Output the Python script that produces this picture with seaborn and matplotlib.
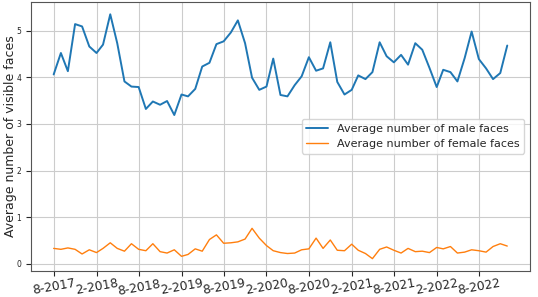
import pandas as pd
import seaborn as sns
import matplotlib.pyplot as plt

sns.set_style('ticks')

months = pd.date_range('2017-08-01', '2022-12-01', freq='MS')
male_faces = [
    4.06, 4.52, 4.13, 5.14, 5.09, 4.66, 4.52, 4.70, 5.35, 4.73,
    3.91, 3.80, 3.79, 3.32, 3.48, 3.41, 3.49, 3.19, 3.63, 3.59,
    3.75, 4.23, 4.31, 4.71, 4.77, 4.96, 5.22, 4.73, 3.99, 3.73,
    3.80, 4.40, 3.62, 3.59, 3.83, 4.02, 4.43, 4.14, 4.19, 4.75,
    3.90, 3.63, 3.73, 4.04, 3.96, 4.11, 4.75, 4.45, 4.32, 4.48,
    4.27, 4.73, 4.59, 4.20, 3.79, 4.16, 4.11, 3.91, 4.41, 4.98,
    4.39, 4.19, 3.96, 4.09, 4.68,
]
female_faces = [
    0.33, 0.31, 0.34, 0.31, 0.21, 0.30, 0.24, 0.33, 0.45, 0.33,
    0.27, 0.43, 0.31, 0.28, 0.43, 0.26, 0.23, 0.30, 0.16, 0.20,
    0.32, 0.27, 0.52, 0.62, 0.44, 0.45, 0.47, 0.53, 0.76, 0.55,
    0.39, 0.28, 0.24, 0.22, 0.23, 0.30, 0.32, 0.55, 0.33, 0.51,
    0.29, 0.28, 0.42, 0.29, 0.22, 0.11, 0.31, 0.36, 0.29, 0.23,
    0.33, 0.26, 0.27, 0.24, 0.35, 0.32, 0.37, 0.23, 0.25, 0.30,
    0.28, 0.25, 0.37, 0.43, 0.38,
]

df = pd.DataFrame({'date': months, 'male': male_faces, 'female': female_faces})

fig, ax = plt.subplots(figsize=(5.38, 2.97), dpi=100)
fig.subplots_adjust(left=0.0576, right=0.985, top=0.993, bottom=0.088)

sns.lineplot(data=df, x='date', y='male', ax=ax, color='#1f77b4',
             linewidth=1.4, label='Average number of male faces')
sns.lineplot(data=df, x='date', y='female', ax=ax, color='#ff7f0e',
             linewidth=1.0, label='Average number of female faces')

# ticks every six months, only inside the data range
tick_dates = [d for d in months if d.month in (2, 8)]
ax.set_xticks(tick_dates)
ax.set_xticklabels([f"{d.month}-{d.year}" for d in tick_dates])
ax.tick_params(axis='x', labelsize=8.8, labelrotation=10, pad=1)
ax.tick_params(axis='y', labelsize=5.5, length=3.5)
ax.grid(True, color='#cccccc', linewidth=0.8)
for s in ax.spines.values():
    s.set_color('#555555')
ax.set_ylabel('Average number of visible faces', fontsize=9)
ax.yaxis.set_label_coords(-0.028, 0.5)
ax.set_xlabel('Date', fontsize=9, labelpad=3)
ax.legend(loc='center right', fontsize=8, bbox_to_anchor=(1.0, 0.5))
plt.savefig('out.png')
